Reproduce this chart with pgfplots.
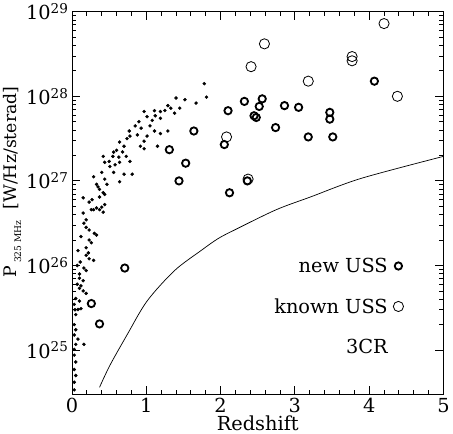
\documentclass[border=0pt]{standalone}
\usepackage{fontspec}
\setmainfont{DejaVu Serif}
\usepackage{pgfplots}
\pgfplotsset{compat=1.18}

\begin{document}
\begin{tikzpicture}
\begin{semilogyaxis}[
  scale only axis, width=365pt, height=376pt,
  xmin=0, xmax=5, ymin=3e24, ymax=1e29,
  xtick={0,1,2,3,4,5}, minor x tick num=4,
  ytick={1e25,1e26,1e27,1e28,1e29},
  yticklabels={10\textsuperscript{25},10\textsuperscript{26},10\textsuperscript{27},10\textsuperscript{28},10\textsuperscript{29}},
  /pgf/number format/assume math mode=true,
  major tick length=8pt, minor tick length=4pt,
  tick style={black, line width=0.8pt},
  axis line style={line width=1pt},
  tick label style={font=\fontsize{19}{22}\selectfont},
  label style={font=\fontsize{19}{22}\selectfont},
  xlabel={Redshift},
  xlabel style={yshift=4pt},
  ylabel={P\,\raisebox{-0.5ex}{\fontsize{9}{10}\selectfont 325 MHz}\ \ [W/Hz/sterad]},
  ylabel style={at={(ticklabel cs:0.555)}, yshift=-2pt, font=\fontsize{17}{20}\selectfont},
  legend style={draw=none, fill=none, at={(0.893,0.362)}, anchor=north east,
    legend plot pos=right, legend cell align=right, row sep=20pt,
    font=\fontsize{19}{22}\selectfont, inner sep=0pt},
  reverse legend,
]
% flux limit curve
\addplot[smooth, line width=0.7pt, forget plot] coordinates {
  (0.37,3.63e24) (0.51,6.61e24) (0.74,1.51e25) (1.01,3.80e25) (1.38,8.71e25)
  (1.74,1.51e26) (1.97,2.09e26) (2.21,2.69e26) (2.75,4.57e26) (3.21,6.46e26)
  (3.89,1.07e27) (5.00,1.95e27)
};
% 3CR
\addplot[only marks, mark=*, mark size=1.5pt, legend image code/.code={}] coordinates {
  (1.78,1.41e28) (1.81,9.77e27) (1.67,8.32e27) (1.52,9.12e27) (1.40,9.55e27)
  (1.29,7.76e27) (1.33,7.24e27) (1.45,7.24e27) (1.38,6.31e27) (1.19,6.61e27)
  (1.11,6.76e27) (1.19,5.50e27) (1.12,5.89e27) (1.01,5.75e27) (0.97,6.61e27)
  (0.90,5.01e27) (0.85,4.47e27) (1.05,4.47e27) (1.11,3.89e27) (1.29,3.89e27)
  (1.19,3.63e27) (1.01,3.39e27) (0.97,2.95e27) (0.92,2.57e27) (0.97,2.40e27)
  (1.15,2.57e27) (0.77,3.89e27) (0.78,3.39e27) (0.74,3.16e27) (0.64,2.88e27)
  (0.70,2.57e27) (0.56,2.19e27) (0.63,1.91e27) (0.55,1.95e27) (0.73,1.95e27)
  (0.78,1.70e27) (0.64,1.66e27) (0.42,1.95e27) (0.44,1.66e27) (0.51,1.48e27)
  (0.56,1.26e27) (0.70,1.20e27) (0.81,1.20e27) (0.40,1.26e27) (0.44,1.05e27)
  (0.29,1.12e27) (0.33,9.12e26) (0.37,7.94e26) (0.42,7.24e26) (0.37,6.46e26)
  (0.64,9.77e26) (0.15,6.31e26) (0.23,5.62e26) (0.29,4.57e26) (0.37,4.57e26)
  (0.40,4.90e26) (0.33,4.79e26) (0.47,9.12e26) (0.44,6.92e26) (0.26,4.57e26)
  (0.42,4.27e26) (0.44,5.25e26) (0.16,3.16e26) (0.19,2.82e26) (0.23,2.63e26)
  (0.30,2.40e26) (0.33,2.29e26) (0.23,2.00e26) (0.26,1.86e26) (0.19,1.62e26)
  (0.22,1.41e26) (0.19,1.32e26) (0.23,1.20e26) (0.29,1.15e26) (0.16,9.33e25)
  (0.19,8.71e25) (0.10,7.08e25) (0.15,6.61e25) (0.12,5.75e25) (0.15,4.17e26)
  (0.19,3.47e26) (0.10,7.94e25) (0.10,5.37e25) (0.15,5.01e25) (0.19,4.68e25)
  (0.05,4.07e25) (0.10,3.80e25) (0.03,3.47e25) (0.08,3.02e25) (0.12,3.09e25)
  (0.05,2.63e25) (0.03,2.00e25) (0.05,1.74e25) (0.03,1.51e25) (0.08,1.35e25)
  (0.05,1.17e25) (0.03,1.02e25) (0.03,8.71e24) (0.05,7.24e24) (0.03,5.89e24)
  (0.05,5.01e24) (0.03,4.17e24) (0.03,3.39e24) (0.16,1.17e25)
  (0.60,2.30e27) (0.68,2.20e27) (0.88,3.50e27) (0.93,4.20e27) (1.08,5.20e27)
  (1.25,6.80e27) (0.50,1.70e27) (0.58,1.55e27) (0.35,8.50e26) (0.27,6.00e26)
  (0.12,2.20e26) (0.08,1.50e26) (0.07,1.00e26) (0.11,1.10e26) (0.07,6.00e25)
  (0.04,3.00e25)
};
\addlegendentry{3CR}
% known USS
\addplot[only marks, mark=o, mark size=5pt, mark options={line width=0.8pt}] coordinates {
  (4.20,7.24e28) (2.59,4.17e28) (2.41,2.24e28) (3.77,2.95e28) (3.77,2.63e28)
  (3.18,1.51e28) (4.38,1.00e28) (2.08,3.31e27) (2.37,1.05e27)
};
\addlegendentry{known USS}
% new USS
\addplot[only marks, mark=o, mark size=3.6pt, mark options={line width=1.8pt}] coordinates {
  (4.07,1.51e28) (2.10,6.76e27) (2.32,8.71e27) (2.56,9.33e27) (2.52,7.59e27)
  (2.45,5.89e27) (2.48,5.62e27) (2.86,7.76e27) (3.05,7.41e27) (2.74,4.27e27)
  (3.47,6.46e27) (3.47,5.37e27) (3.18,3.31e27) (3.51,3.31e27) (2.05,2.69e27)
  (2.36,1.00e27) (2.12,7.24e26) (1.64,3.89e27) (1.53,1.62e27) (1.44,1.00e27)
  (1.31,2.34e27) (0.26,3.55e25) (0.37,2.04e25) (0.71,9.33e25)
};
\addlegendentry{new USS}
\end{semilogyaxis}
\end{tikzpicture}
\end{document}
